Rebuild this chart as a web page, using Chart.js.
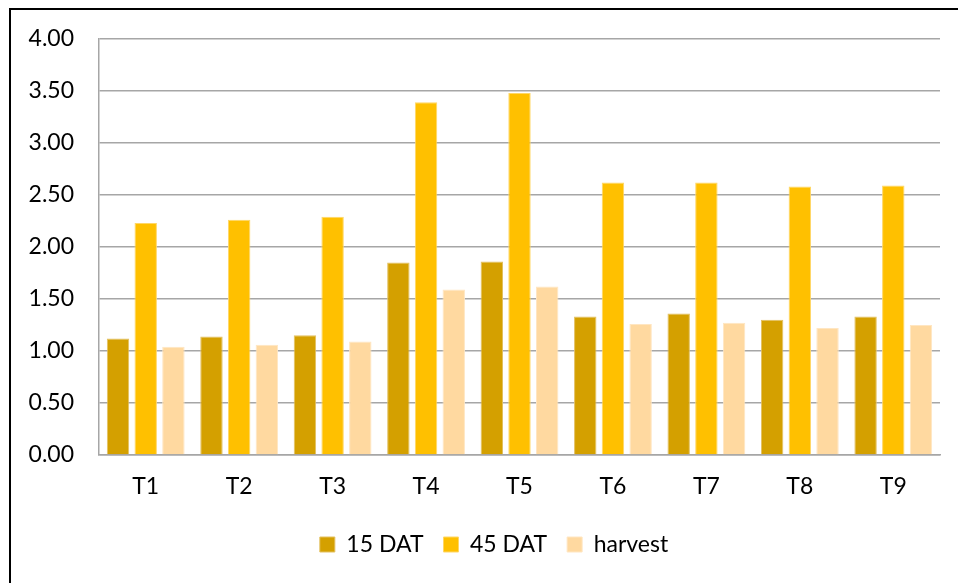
<!DOCTYPE html>
<html>
<head>
<meta charset="utf-8">
<script src="https://cdn.jsdelivr.net/npm/chart.js@4/dist/chart.umd.min.js"></script>
<style>
  html, body { margin: 0; padding: 0; background: #fff; overflow: hidden; }
  #wrap { position: relative; width: 958px; height: 583px; overflow: hidden; }
  #frame {
    position: absolute; left: 9px; top: 8px; width: 2000px; height: 2000px;
    border-left: 2px solid #000; border-top: 2px solid #000; pointer-events: none;
  }
  canvas { position: absolute; left: 0; top: 0; }
</style>
</head>
<body>
<div id="wrap">
  <canvas id="c" width="958" height="620"></canvas>
  <div id="frame"></div>
</div>
<script>
// Treatments and measured values at three stages
const categories = ['T1', 'T2', 'T3', 'T4', 'T5', 'T6', 'T7', 'T8', 'T9'];
const dat15   = [1.12, 1.14, 1.15, 1.85, 1.86, 1.33, 1.36, 1.30, 1.33];
const dat45   = [2.23, 2.26, 2.29, 3.39, 3.48, 2.62, 2.62, 2.58, 2.59];
const harvest = [1.04, 1.06, 1.09, 1.59, 1.62, 1.26, 1.27, 1.22, 1.25];
const seriesNames = ['15 DAT', '45 DAT', 'harvest'];
const yTicks = [0, 0.5, 1, 1.5, 2, 2.5, 3, 3.5, 4];

const colors = ['#D4A000', '#FFC000', '#FFD9A0'];
const edges  = ['#E3C060', '#FFD766', '#FFE6C2'];
const FONT = { family: 'Lato, "Liberation Sans", sans-serif', size: 23 };
const GRID = '#A6A6A6';

const values = [dat15, dat45, harvest];

// nudges the legend row a little to the right of the canvas centre
const legendShift = {
  id: 'legendShift',
  afterLayout(chart) {
    const lg = chart.legend;
    if (lg) { lg.left += 10; lg.right += 10; }
  }
};

new Chart(document.getElementById('c'), {
  type: 'bar',
  data: {
    labels: categories,
    datasets: values.map((v, i) => ({
      label: seriesNames[i],
      data: v,
      backgroundColor: colors[i],
      borderColor: edges[i],
      borderWidth: 1,
      categoryPercentage: 0.889,
      barPercentage: 0.81
    }))
  },
  options: {
    responsive: false,
    animation: false,
    devicePixelRatio: 1,
    layout: { padding: { left: 28, right: 18, top: 38, bottom: 54 } },
    plugins: {
      tooltip: { enabled: false },
      legend: {
        position: 'bottom',
        labels: {
          color: '#000',
          font: FONT,
          boxWidth: 15,
          boxHeight: 15,
          padding: 20
        }
      }
    },
    scales: {
      x: {
        grid: { display: false, drawTicks: false },
        border: { display: true, color: GRID, width: 1.5 },
        ticks: { color: '#000', font: FONT, padding: 18, maxRotation: 0 },
        afterFit: s => { s.height = 58; }
      },
      y: {
        min: yTicks[0],
        max: yTicks[yTicks.length - 1],
        afterBuildTicks: s => { s.ticks = yTicks.map(v => ({ value: v })); },
        grid: { color: GRID, lineWidth: 1.5, drawTicks: false },
        border: { display: true, color: GRID, width: 1.5 },
        ticks: {
          color: '#000', font: FONT, padding: 25,
          callback: v => Number(v).toFixed(2)
        },
        afterFit: s => { s.width = 71; }
      }
    }
  },
  plugins: [legendShift]
});
</script>
</body>
</html>
